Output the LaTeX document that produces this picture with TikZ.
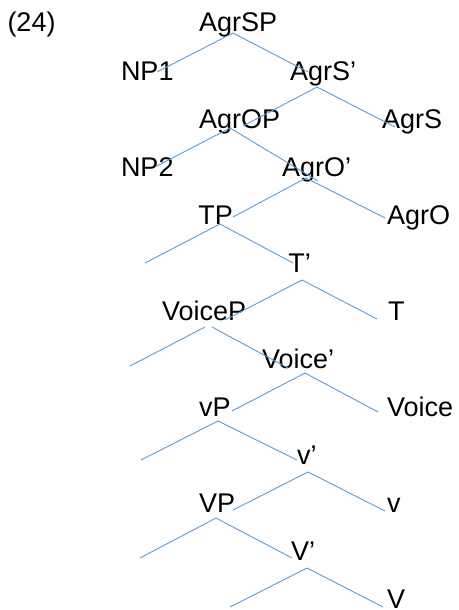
\documentclass[tikz,border=0pt]{standalone}
\usepackage{fontspec}
\setmainfont{Liberation Sans}
\definecolor{treeblue}{HTML}{5B9BD5}
\tikzset{
  lbl/.style={anchor=base west,inner sep=0pt,outer sep=0pt,font=\fontsize{27}{32}\selectfont,text=black},
  branch/.style={draw=treeblue,line width=0.9pt}
}
\begin{document}
\begin{tikzpicture}[x=1pt,y=-1pt]
\useasboundingbox (0,0) rectangle (458,610);
% labels
\node[lbl] (ex) at (7.5,32) {(24)};
\node[lbl] (agrsp) at (199,32) {AgrSP};
\node[lbl] (np1) at (121,80) {NP1};
\node[lbl] (agrsbar) at (290,80) {AgrS’};
\node[lbl] (agrop) at (199,128) {AgrOP};
\node[lbl] (agrs) at (382,128) {AgrS};
\node[lbl] (np2) at (121,176) {NP2};
\node[lbl] (agrobar) at (282,176) {AgrO’};
\node[lbl] (tp) at (198.4,224) {TP};
\node[lbl] (agro) at (387,224) {AgrO};
\node[lbl] (tbar) at (288.4,272) {T’};
\node[lbl] (t) at (388,320) {T};
\node[lbl] (voicep) at (162,320) {VoiceP};
\node[lbl] (voicebar) at (262,368) {Voice’};
\node[lbl] (vp) at (199,416) {vP};
\node[lbl] (voice) at (387,416) {Voice};
\node[lbl] (vbar) at (297,464) {v’};
\node[lbl] (v) at (387,512) {v};
\node[lbl] (bigvp) at (199,512) {VP};
\node[lbl] (bigvbar) at (291,560) {V’};
\node[lbl] (bigv) at (387,608) {V};
% branch points
\coordinate (a1) at (233,33);  \coordinate (a1L) at (157,72);  \coordinate (a1R) at (308,72);
\coordinate (a2) at (317,87);  \coordinate (a2L) at (243,126); \coordinate (a2R) at (395,127);
\coordinate (a3) at (230,128); \coordinate (a3L) at (155,167); \coordinate (a3R) at (318,181);
\coordinate (a4) at (306,178); \coordinate (a4L) at (233,217); \coordinate (a4R) at (385,218);
\coordinate (a5) at (220,224); \coordinate (a5L) at (145,263); \coordinate (a5R) at (293,263);
\coordinate (a6) at (302,280); \coordinate (a6L) at (225,320); \coordinate (a6R) at (377,319);
\coordinate (a7l) at (205,327); \coordinate (a7r) at (212,327);
\coordinate (a7L) at (130,366); \coordinate (a7R) at (288,368);
\coordinate (a8) at (305,373); \coordinate (a8L) at (232,411); \coordinate (a8R) at (378,412);
\coordinate (a9) at (218,421); \coordinate (a9L) at (141,460); \coordinate (a9R) at (297,460);
\coordinate (a10) at (308,472); \coordinate (a10L) at (233,510); \coordinate (a10R) at (385,511);
\coordinate (a11) at (216,518); \coordinate (a11L) at (140,558); \coordinate (a11R) at (292,558);
\coordinate (a12) at (307,568); \coordinate (a12L) at (230,607); \coordinate (a12R) at (383,607);
% branches
\draw[branch] (a1L) -- (a1) -- (a1R);
\draw[branch] (a2L) -- (a2) -- (a2R);
\draw[branch] (a3L) -- (a3) -- (a3R);
\draw[branch] (a4L) -- (a4) -- (a4R);
\draw[branch] (a5L) -- (a5) -- (a5R);
\draw[branch] (a6L) -- (a6) -- (a6R);
\draw[branch] (a7L) -- (a7l);
\draw[branch] (a7r) -- (a7R);
\draw[branch] (a8L) -- (a8) -- (a8R);
\draw[branch] (a9L) -- (a9) -- (a9R);
\draw[branch] (a10L) -- (a10) -- (a10R);
\draw[branch] (a11L) -- (a11) -- (a11R);
\draw[branch] (a12L) -- (a12) -- (a12R);
\end{tikzpicture}
\end{document}
